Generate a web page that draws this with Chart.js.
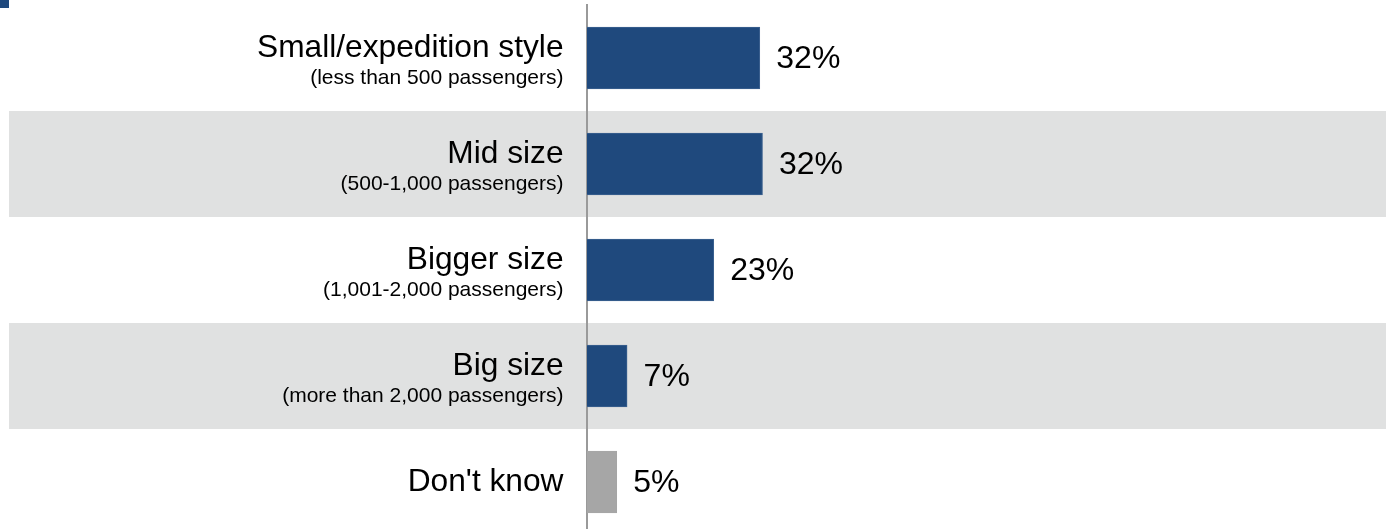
<!DOCTYPE html>
<html>
<head>
<meta charset="utf-8">
<script src="https://cdn.jsdelivr.net/npm/chart.js@4/dist/chart.umd.min.js"></script>
<style>
    html, body { margin: 0; padding: 0; background: #fff; overflow: hidden; }
    #corner { position: absolute; left: 0; top: 0; width: 9px; height: 8px; background: #1f497d; }
    #wrap { position: relative; width: 1386px; height: 535px; }
</style>
</head>
<body>
<div id="wrap"><canvas id="sizeChart" width="1386" height="535"></canvas></div>
<div id="corner"></div>
<script>
// data
var categories = ['Small/expedition style', 'Mid size', 'Bigger size', 'Big size', "Don't know"];
var subtitles = ['(less than 500 passengers)', '(500-1,000 passengers)', '(1,001-2,000 passengers)', '(more than 2,000 passengers)', ''];
var values = [31.9, 32.4, 23.4, 7.4, 5.5];
var valueLabels = ['32%', '32%', '23%', '7%', '5%'];

var FONT = '"Liberation Sans", Arial, Helvetica, sans-serif';

window.addEventListener("load", () => {
    // grey bands behind every second row
    var bandsPlugin = {
        id: 'bands',
        beforeDraw(chart) {
            var ctx = chart.ctx;
            var yScale = chart.scales.y;
            var step = (chart.chartArea.bottom - chart.chartArea.top) / categories.length;
            ctx.save();
            ctx.fillStyle = '#e0e1e1';
            for (let i = 1; i < categories.length; i += 2) {
                var yc = yScale.getPixelForValue(i);
                ctx.fillRect(9, yc - step / 2, chart.width - 9, step);
            }
            ctx.restore();
        }
    };

    // category names with the small passenger line underneath
    var labelsPlugin = {
        id: 'rowLabels',
        afterDraw(chart) {
            var ctx = chart.ctx;
            var yScale = chart.scales.y;
            var xRight = chart.chartArea.left - 23.5;
            ctx.save();
            ctx.fillStyle = '#000';
            ctx.textAlign = 'right';
            categories.forEach((cat, i) => {
                var yc = yScale.getPixelForValue(i);
                ctx.font = '31.7px ' + FONT;
                if (subtitles[i]) {
                    ctx.textBaseline = 'alphabetic';
                    ctx.fillText(cat, xRight, yc - 1.5);
                    ctx.font = '21px ' + FONT;
                    ctx.fillText(subtitles[i], xRight, yc + 26);
                } else {
                    ctx.textBaseline = 'middle';
                    ctx.fillText(cat, xRight, yc);
                }
            });
            ctx.restore();
        }
    };

    // percentage next to each bar
    var valuesPlugin = {
        id: 'valueLabels',
        afterDatasetsDraw(chart) {
            var ctx = chart.ctx;
            var meta = chart.getDatasetMeta(0);
            ctx.save();
            ctx.fillStyle = '#000';
            ctx.font = '32px ' + FONT;
            ctx.textAlign = 'left';
            ctx.textBaseline = 'middle';
            meta.data.forEach((bar, i) => {
                ctx.fillText(valueLabels[i], bar.x + 16.5, bar.y + 1.5);
            });
            ctx.restore();
        }
    };

    var myChart = document.getElementById('sizeChart').getContext('2d');
    var sizeChart = new Chart(myChart, {
        type: 'bar',
        data: {
            labels: categories,
            datasets: [{
                label: 'share',
                data: values,
                backgroundColor: (c) => categories[c.dataIndex] === "Don't know" ? '#a6a6a6' : '#1f497d',
                borderColor: (c) => categories[c.dataIndex] === "Don't know" ? '#a6a6a6' : '#3d6290',
                borderWidth: 1,
                borderSkipped: 'start',
                barThickness: 62
            }]
        },
        options: {
            indexAxis: 'y',
            responsive: false,
            animation: false,
            layout: { padding: { top: 5, left: 0, right: 0, bottom: 0 } },
            plugins: {
                legend: { display: false },
                tooltip: { enabled: false }
            },
            scales: {
                x: {
                    display: false,
                    min: 0,
                    max: 147.5
                },
                y: {
                    ticks: { display: false },
                    grid: { display: false, drawTicks: false },
                    border: { display: true, color: '#9a9a9a', width: 2 },
                    afterFit: (scale) => { scale.width = 587; }
                }
            }
        },
        plugins: [bandsPlugin, labelsPlugin, valuesPlugin]
    });
});
</script>
</body>
</html>
